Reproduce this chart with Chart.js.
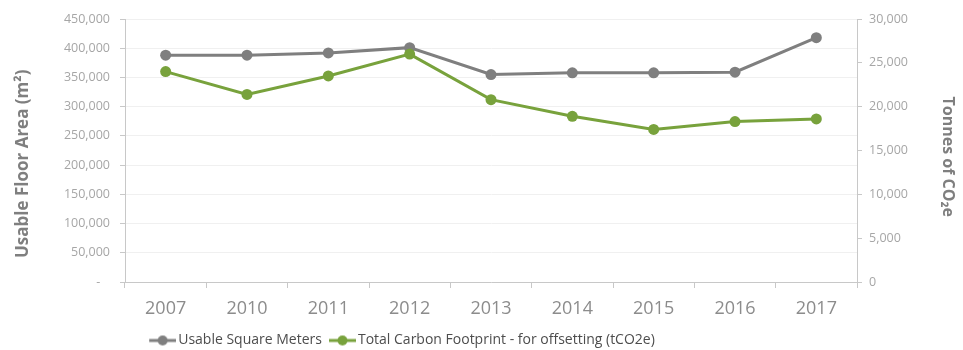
<!DOCTYPE html>
<html>
<head>
<meta charset="utf-8">
<script src="https://cdn.jsdelivr.net/npm/chart.js@4"></script>
<style>
  html, body { margin: 0; padding: 0; background: #ffffff; }
  #wrap { width: 963px; height: 350px; position: relative; }
</style>
</head>
<body>
<div id="wrap"><canvas id="chart"></canvas></div>
<script>
// Reporting years
const years = ['2007', '2010', '2011', '2012', '2013', '2014', '2015', '2016', '2017'];

// Usable floor area, m² (left axis)
const usableSquareMeters = [388000, 388000, 392000, 401000, 355000, 358000, 358000, 359000, 418000];

// Total carbon footprint for offsetting, tCO2e (right axis)
const carbonFootprint = [24000, 21400, 23500, 26000, 20800, 18900, 17400, 18300, 18600];

// Axis ranges and tick steps
const areaAxis = { min: 0, max: 450000, step: 50000 };
const carbonAxis = { min: 0, max: 30000, step: 5000 };

const GRAY = '#7f7f7f';
const GREEN = '#78a23c';
const AXIS_LINE = '#c8c8c8';
const FONT = "'Open Sans', sans-serif";

// Legend swatch: short line with a round marker in the middle.
// The canvas is a little wider than the legend box so the line runs
// right up to the label text.
const SWATCH_BOX = 25;
function legendMarker(color) {
  const c = document.createElement('canvas');
  c.width = SWATCH_BOX + 10;
  c.height = 12;
  const g = c.getContext('2d');
  g.strokeStyle = color;
  g.lineWidth = 3;
  g.beginPath();
  g.moveTo(8, 6);
  g.lineTo(c.width, 6);
  g.stroke();
  g.fillStyle = color;
  g.beginPath();
  g.arc(8 + (c.width - 8) / 2, 6, 5, 0, Math.PI * 2);
  g.fill();
  return c;
}
const markers = [legendMarker(GRAY), legendMarker(GREEN)];

// Places the bottom legend: slightly left of the canvas centre, near the bottom edge
const placeLegend = {
  id: 'placeLegend',
  afterLayout(chart) {
    const lg = chart.legend;
    if (!lg) return;
    lg.left -= 81;
    lg.right -= 81;
    const h = lg.bottom - lg.top;
    lg.top = 329.5;
    lg.bottom = lg.top + h;
  }
};

const fmt = v => v.toLocaleString('en-US');

new Chart(document.getElementById('chart'), {
  type: 'line',
  data: {
    labels: years,
    datasets: [
      {
        label: 'Usable Square Meters',
        data: usableSquareMeters,
        yAxisID: 'y',
        borderColor: GRAY,
        backgroundColor: GRAY,
        pointBackgroundColor: GRAY,
        borderWidth: 3,
        pointRadius: 5.5,
        pointBorderWidth: 0,
        tension: 0,
        order: 1
      },
      {
        label: 'Total Carbon Footprint - for offsetting (tCO2e)',
        data: carbonFootprint,
        yAxisID: 'y2',
        borderColor: GREEN,
        backgroundColor: GREEN,
        pointBackgroundColor: GREEN,
        borderWidth: 3,
        pointRadius: 5.5,
        pointBorderWidth: 0,
        tension: 0,
        order: 0
      }
    ]
  },
  options: {
    responsive: true,
    maintainAspectRatio: false,
    animation: false,
    devicePixelRatio: 1,
    layout: { padding: { top: 19, left: 0, right: 0, bottom: 0 } },
    plugins: {
      tooltip: { enabled: false },
      legend: {
        position: 'bottom',
        align: 'center',
        labels: {
          usePointStyle: true,
          pointStyleWidth: SWATCH_BOX,
          padding: 4,
          color: '#4d4d4d',
          font: { family: FONT, size: 14 },
          sort: (a, b) => a.datasetIndex - b.datasetIndex,
          generateLabels(chart) {
            const items = Chart.defaults.plugins.legend.labels.generateLabels(chart);
            items.forEach(it => { it.pointStyle = markers[it.datasetIndex]; });
            return items;
          }
        }
      }
    },
    scales: {
      x: {
        type: 'category',
        offset: true,
        grid: {
          display: true,
          drawOnChartArea: false,
          drawTicks: true,
          tickLength: 6,
          tickColor: AXIS_LINE,
          offset: true
        },
        border: { display: true, color: AXIS_LINE, width: 1 },
        ticks: {
          color: '#8c8c8c',
          font: { family: FONT, size: 18 },
          padding: 10,
          maxRotation: 0,
          autoSkip: false
        },
        afterFit(s) { s.height = 40; }
      },
      y: {
        position: 'left',
        min: areaAxis.min,
        max: areaAxis.max,
        ticks: {
          stepSize: areaAxis.step,
          color: '#a6a6a6',
          font: { family: FONT, size: 12.5 },
          padding: 10,
          callback: v => (v === 0 ? '-   ' : fmt(v))
        },
        grid: { color: '#f0f0f0', tickColor: AXIS_LINE, tickLength: 5, drawTicks: true },
        border: { display: true, color: AXIS_LINE },
        title: {
          display: true,
          text: 'Usable Floor Area (m²)      ',
          color: '#7f7f7f',
          font: { family: FONT, size: 17, weight: 'bold' },
          padding: { top: 12.8, bottom: 0 }
        },
        afterFit(s) { s.width = 125; }
      },
      y2: {
        position: 'right',
        min: carbonAxis.min,
        max: carbonAxis.max,
        ticks: {
          stepSize: carbonAxis.step,
          color: '#a6a6a6',
          font: { family: FONT, size: 12.5 },
          padding: 7,
          callback: v => fmt(v)
        },
        grid: { drawOnChartArea: false, tickColor: AXIS_LINE, tickLength: 5, drawTicks: true },
        border: { display: true, color: AXIS_LINE },
        title: {
          display: true,
          text: '   Tonnes of CO₂e',
          color: '#7f7f7f',
          font: { family: FONT, size: 16, weight: 'bold' },
          padding: { top: 5.4, bottom: 0 }
        },
        afterFit(s) { s.width = 106; }
      }
    }
  },
  plugins: [placeLegend]
});
</script>
</body>
</html>
